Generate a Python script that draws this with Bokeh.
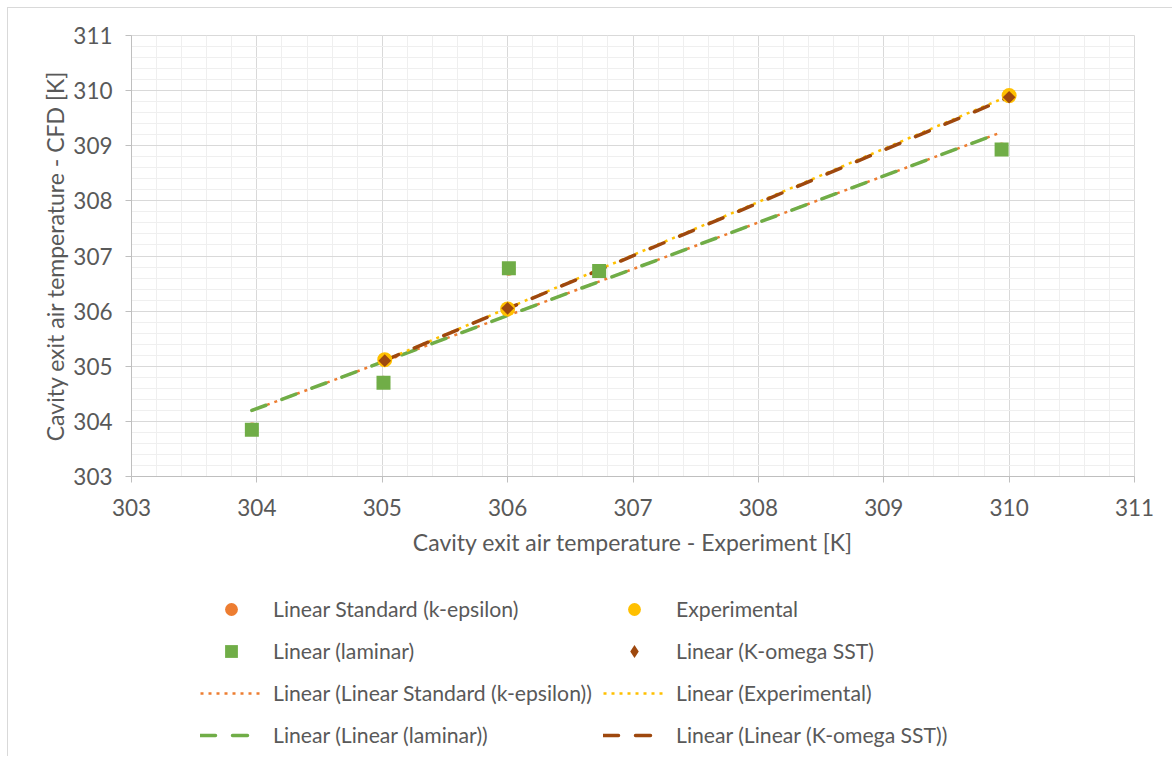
import numpy as np
from bokeh.plotting import figure
from bokeh.layouts import column
from bokeh.models import Range1d, SingleIntervalTicker, Legend, LegendItem
from bokeh.embed import file_html
from bokeh.resources import INLINE

# ---- data ----
keps_x = [303.96, 305.01, 306.01, 306.73, 309.94]
keps_y = [303.86, 304.71, 306.76, 306.72, 308.94]
lam_x = [303.96, 305.01, 306.01, 306.73, 309.94]
lam_y = [303.85, 304.70, 306.78, 306.73, 308.93]
exp_x = [305.02, 306.00, 310.00]
exp_y = [305.12, 306.04, 309.91]
kom_x = [305.02, 306.00, 310.00]
kom_y = [305.10, 306.05, 309.88]

x_ticks_start, x_ticks_end = 303, 311
y_ticks_start, y_ticks_end = 303, 311

ORANGE = "#ed7d31"
GREEN = "#70ad47"
YELLOW = "#ffc000"
BROWN = "#9e480e"
TXT = "#595959"
FONT = "Lato"
FS_TICK = "22.5px"
FS_AXIS = "23px"
FS_LEG = "21.2px"


def trend(xs, ys):
    k, b = np.polyfit(xs, ys, 1)
    xe = [min(xs), max(xs)]
    return xe, [k * v + b for v in xe]


p = figure(width=1164, height=551,
           x_range=Range1d(x_ticks_start, x_ticks_end),
           y_range=Range1d(y_ticks_start, y_ticks_end),
           output_backend="svg", toolbar_location=None,
           min_border_left=123, min_border_right=38,
           min_border_top=27, min_border_bottom=83)

p.background_fill_color = "white"
p.border_fill_color = "white"
p.outline_line_color = "#d9d9d9"

for ax in (p.xaxis, p.yaxis):
    ax.ticker = SingleIntervalTicker(interval=1, num_minor_ticks=5)
    ax.axis_line_color = "#bfbfbf"
    ax.major_tick_line_color = "#bfbfbf"
    ax.major_tick_in = 0
    ax.major_tick_out = 6
    ax.minor_tick_line_color = None
    ax.major_label_text_font = FONT
    ax.major_label_text_font_size = FS_TICK
    ax.major_label_text_color = TXT
    ax.axis_label_text_font = FONT
    ax.axis_label_text_font_size = FS_AXIS
    ax.axis_label_text_font_style = "normal"
    ax.axis_label_text_color = TXT

p.xaxis.axis_label = "Cavity exit air temperature - Experiment [K]"
p.yaxis.axis_label = "Cavity exit air temperature - CFD [K]"
p.xaxis.major_label_standoff = 16
p.xaxis.axis_label_standoff = 9
p.yaxis.major_label_standoff = 13
p.yaxis.axis_label_standoff = 1

for g in (p.xgrid, p.ygrid):
    g.ticker = SingleIntervalTicker(interval=1, num_minor_ticks=5)
    g.grid_line_color = "#d9d9d9"
    g.minor_grid_line_color = "#efefef"

STYLE_KEPS_T = dict(line_color=ORANGE, line_width=2.5, line_dash="3 5")
STYLE_LAM_T = dict(line_color=GREEN, line_width=3.5, line_dash="15 17", line_cap="round")
STYLE_EXP_T = dict(line_color=YELLOW, line_width=2.5, line_dash="3 5")
STYLE_KOM_T = dict(line_color=BROWN, line_width=3.5, line_dash="15 17", line_cap="round")

# trend lines (least squares of each series, over its x extent)
keps_tx, keps_ty = trend(keps_x, keps_y)
lam_tx, lam_ty = trend(lam_x, lam_y)
exp_tx, exp_ty = trend(exp_x, exp_y)
kom_tx, kom_ty = trend(kom_x, kom_y)
p.line(keps_tx, keps_ty, **STYLE_KEPS_T)
p.line(lam_tx, lam_ty, **STYLE_LAM_T)
p.line(exp_tx, exp_ty, **STYLE_EXP_T)
p.line(kom_tx, kom_ty, **STYLE_KOM_T)

# markers
p.scatter(keps_x, keps_y, marker="circle", size=13, fill_color=ORANGE, line_color=None)
p.scatter(lam_x, lam_y, marker="square", size=14, fill_color=GREEN, line_color=None)
p.scatter(exp_x, exp_y, marker="circle", size=15, fill_color=YELLOW, line_color=None)
p.scatter(kom_x, kom_y, marker="square", angle=np.pi / 4, size=9, fill_color=BROWN, line_color=None)

# ---- legend panel (a second figure below the chart; its ranges keep the
#      proxy series out of view, so only the legend shows) ----
q = figure(width=1164, height=197, x_range=Range1d(0, 1), y_range=Range1d(0, 1),
           output_backend="svg", toolbar_location=None,
           x_axis_type=None, y_axis_type=None,
           min_border_left=0, min_border_right=0, min_border_top=0, min_border_bottom=0)
q.outline_line_color = None
q.grid.visible = False
q.background_fill_color = "white"
q.border_fill_color = "white"

l_keps = q.scatter(keps_x, keps_y, marker="circle", fill_color=ORANGE, line_color=None)
l_lam = q.scatter(lam_x, lam_y, marker="square", fill_color=GREEN, line_color=None)
l_exp = q.scatter(exp_x, exp_y, marker="circle", fill_color=YELLOW, line_color=None)
l_kom = q.scatter(kom_x, kom_y, marker="diamond", fill_color=BROWN, line_color=None)
l_keps_t = q.line(keps_tx, keps_ty, **STYLE_KEPS_T)
l_lam_t = q.line(lam_tx, lam_ty, **STYLE_LAM_T)
l_exp_t = q.line(exp_tx, exp_ty, **STYLE_EXP_T)
l_kom_t = q.line(kom_tx, kom_ty, **STYLE_KOM_T)


def make_legend(items, x):
    return Legend(items=items, location=(x, 5), orientation="vertical",
                  padding=0, margin=0, spacing=10,
                  glyph_width=62, glyph_height=32, label_standoff=11,
                  label_text_font=FONT, label_text_font_size=FS_LEG,
                  label_text_color=TXT, border_line_color=None,
                  background_fill_alpha=0)


q.add_layout(make_legend([
    LegendItem(label="Linear Standard (k-epsilon)", renderers=[l_keps]),
    LegendItem(label="Linear (laminar)", renderers=[l_lam]),
    LegendItem(label="Linear (Linear Standard (k-epsilon))", renderers=[l_keps_t]),
    LegendItem(label="Linear (Linear (laminar))", renderers=[l_lam_t]),
], 69), "center")
q.add_layout(make_legend([
    LegendItem(label="Experimental", renderers=[l_exp]),
    LegendItem(label="Linear (K-omega SST)", renderers=[l_kom]),
    LegendItem(label="Linear (Experimental)", renderers=[l_exp_t]),
    LegendItem(label="Linear (Linear (K-omega SST))", renderers=[l_kom_t]),
], 472), "center")

layout = column(p, q, spacing=0, margin=(7, 0, 0, 7),
                styles={"border-style": "solid",
                        "border-color": "#d9d9d9",
                        "border-width": "1px 0px 0px 1px"})
open("out.html", "w").write(file_html(layout, INLINE))
